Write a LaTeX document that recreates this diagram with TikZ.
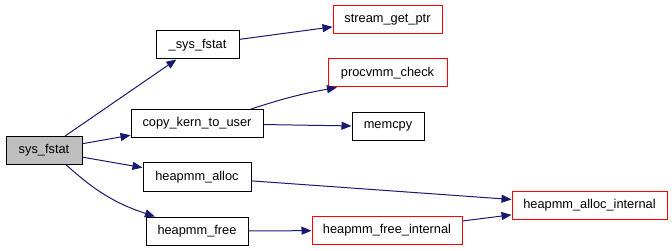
\documentclass[tikz,border=0pt]{standalone}
\usepackage{fontspec}
\setmainfont{Liberation Sans}
\usetikzlibrary{arrows.meta}
\definecolor{edgeblue}{HTML}{191970}
\definecolor{boxred}{HTML}{FF0000}
\definecolor{boxgray}{HTML}{BFBFBF}
\begin{document}
\begin{tikzpicture}[x=1pt,y=-1pt,
  fn/.style={draw=black,line width=1pt,inner sep=0pt,minimum height=28pt,
    font=\fontsize{12.8}{15}\selectfont},
  cur/.style={fn,fill=boxgray},
  ext/.style={fn,draw=boxred},
  call/.style={draw=edgeblue,line width=1pt,
    -{Triangle[length=10pt,width=8pt,fill=edgeblue]}}]
\useasboundingbox (0,0) rectangle (672,251);

% functions
\node[cur,minimum width=76pt]  (sys)    at (44,150.5)  {sys\_fstat};
\node[fn,minimum width=83pt]   (sysf)   at (197.5,45)  {\_sys\_fstat};
\node[fn,minimum width=132pt]  (ckt)    at (197,123.5) {copy\_kern\_to\_user};
\node[fn,minimum width=108pt]  (halloc) at (197,177)   {heapmm\_alloc};
\node[fn,minimum width=102pt]  (hfree)  at (197,231)   {heapmm\_free};
\node[ext,minimum width=109pt] (sgp)    at (387.5,19.5) {stream\_get\_ptr};
\node[ext,minimum width=119pt] (pvc)    at (387.5,73)  {procvmm\_check};
\node[fn,minimum width=72pt]   (mcp)    at (388,126.5) {memcpy};
\node[ext,minimum width=155pt] (hai)    at (589.5,205) {heapmm\_alloc\_internal};
\node[ext,minimum width=150pt] (hfi)    at (387,230.5) {heapmm\_free\_internal};

% calls
\draw[call] (sys) -- (sysf);
\draw[call] (sys) -- (ckt);
\draw[call] (sys) -- (halloc);
\draw[call] (sys.-33) to[bend right=12] (hfree.161);
\draw[call] (sysf) -- (sgp);
\draw[call] (ckt.15) to[bend left=4] (pvc.-164);
\draw[call] (ckt) -- (mcp);
\draw[call] (halloc) -- (hai);
\draw[call] (hfree) -- (hfi);
\draw[call] (hfi) -- (hai);
\end{tikzpicture}
\end{document}
